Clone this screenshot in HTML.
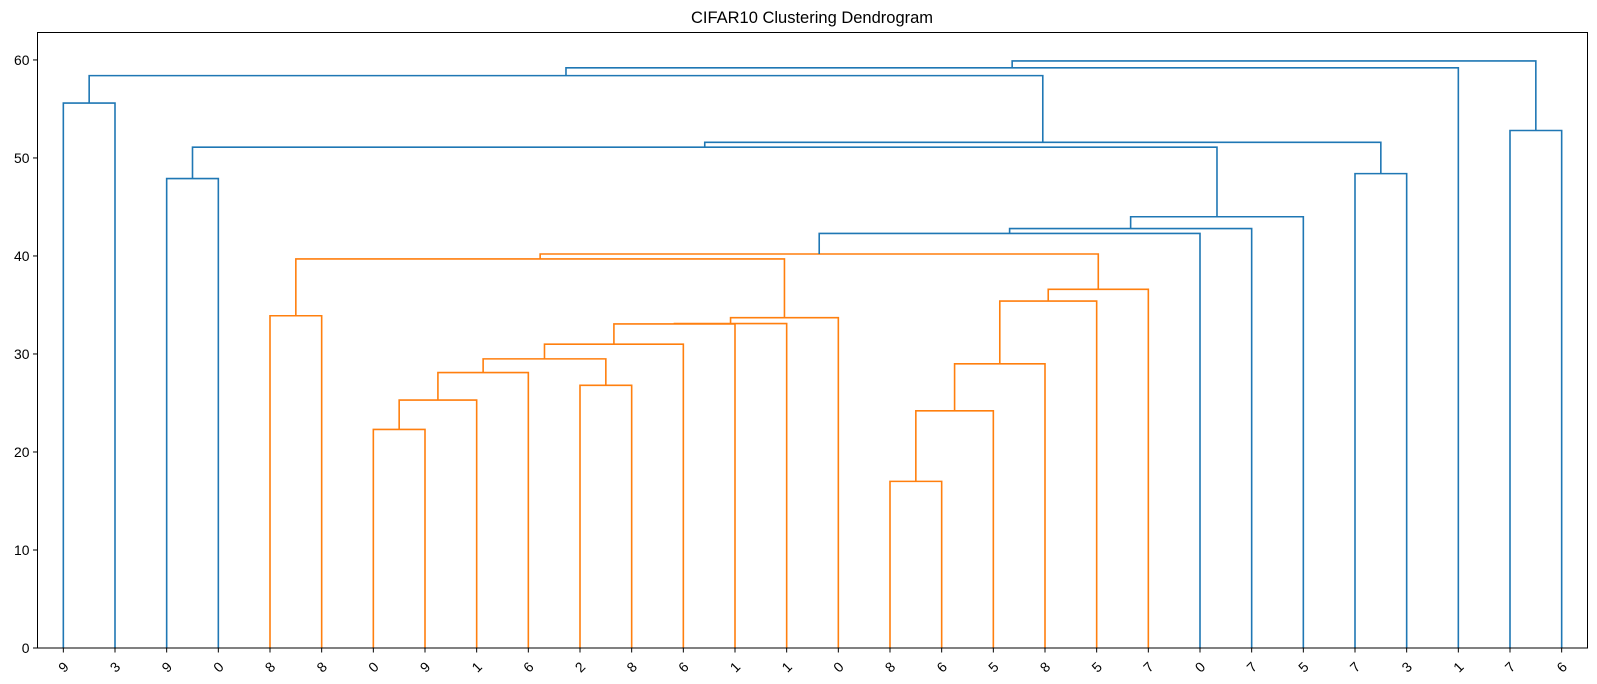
<!DOCTYPE html>
<html><head><meta charset="utf-8">
<style>
html,body{margin:0;padding:0;background:#fff;}
svg{display:block;font-family:"Liberation Sans","DejaVu Sans",sans-serif;}
</style></head>
<body>
<svg id="chart" width="1597" height="684" viewBox="0 0 1597 684">
<text x="812" y="23" text-anchor="middle" font-size="16.5" fill="#000">CIFAR10 Clustering Dendrogram</text>
<g id="links"></g>
<g id="yaxis"></g>
<g id="xaxis"></g>
<rect x="37.5" y="32.5" width="1550" height="615.5" fill="none" stroke="#000" stroke-width="1"/>
</svg>
<script>
const leafLabels = ["9","3","9","0","8","8","0","9","1","6","2","8","6","1","1","0","8","6","5","8","5","7","0","7","5","7","3","1","7","6"];
const mergeLeft  = [0,2,4,6,33,34,10,35,37,38,39,40,32,16,43,44,45,46,42,48,49,50,31,25,52,30,55,28,56];
const mergeRight = [1,3,5,7,8,9,11,36,12,13,14,15,41,17,18,19,20,21,47,22,23,24,51,26,53,54,27,29,57];
const mergeHeight = [55.6,47.9,33.9,22.3,25.3,28.1,26.8,29.5,31.0,33.06,33.1,33.7,39.7,17.0,24.2,29.0,35.4,36.6,40.2,42.3,42.8,44.0,51.1,48.4,51.6,58.4,59.2,52.8,59.9];
const yTicks = [0,10,20,30,40,50,60];
const colorThreshold = 41.9;

const NS = "http://www.w3.org/2000/svg";
const L = 37.5, R = 1587.5, T = 32.5, B = 648;
const xMax = leafLabels.length * 10, yMax = 62.8;
const xs = v => L + (v / xMax) * (R - L);
const ys = v => B - (v / yMax) * (B - T);

const n = leafLabels.length;
const pos = [], hgt = [];
for (let i = 0; i < n; i++) { pos[i] = 5 + 10 * i; hgt[i] = 0; }
const links = document.getElementById('links');
for (let k = 0; k < mergeLeft.length; k++) {
  const a = mergeLeft[k], b = mergeRight[k], h = mergeHeight[k];
  const xa = pos[a], xb = pos[b];
  const p = document.createElementNS(NS, 'path');
  p.setAttribute('d', `M${xs(xa)},${ys(hgt[a])} L${xs(xa)},${ys(h)} L${xs(xb)},${ys(h)} L${xs(xb)},${ys(hgt[b])}`);
  p.setAttribute('fill', 'none');
  p.setAttribute('stroke', h < colorThreshold ? '#ff7f0e' : '#1f77b4');
  p.setAttribute('stroke-width', '1.6');
  
  
  links.appendChild(p);
  pos[n + k] = (xa + xb) / 2;
  hgt[n + k] = h;
}

const yaxis = document.getElementById('yaxis');
yTicks.forEach(t => {
  const y = ys(t);
  const ln = document.createElementNS(NS, 'line');
  ln.setAttribute('x1', L - 4.5); ln.setAttribute('x2', L);
  ln.setAttribute('y1', y); ln.setAttribute('y2', y);
  ln.setAttribute('stroke', '#000');
  
  
  yaxis.appendChild(ln);
  const tx = document.createElementNS(NS, 'text');
  tx.setAttribute('x', L - 8); tx.setAttribute('y', y + 5);
  tx.setAttribute('text-anchor', 'end');
  tx.setAttribute('font-size', '13.9');
  tx.textContent = t;
  
  
  yaxis.appendChild(tx);
});

const xaxis = document.getElementById('xaxis');
leafLabels.forEach((lab, i) => {
  const x = xs(5 + 10 * i);
  const ln = document.createElementNS(NS, 'line');
  ln.setAttribute('x1', x); ln.setAttribute('x2', x);
  ln.setAttribute('y1', B); ln.setAttribute('y2', B + 4.5);
  ln.setAttribute('stroke', '#000');
  
  
  xaxis.appendChild(ln);
  const tx = document.createElementNS(NS, 'text');
  tx.setAttribute('x', x); tx.setAttribute('y', 667);
  tx.setAttribute('text-anchor', 'middle');
  tx.setAttribute('dominant-baseline', 'central');
  tx.setAttribute('font-size', '13.9');
  tx.setAttribute('transform', `rotate(-45 ${x} 667)`);
  tx.textContent = lab;
  
  
  xaxis.appendChild(tx);
});
</script>
</body></html>
